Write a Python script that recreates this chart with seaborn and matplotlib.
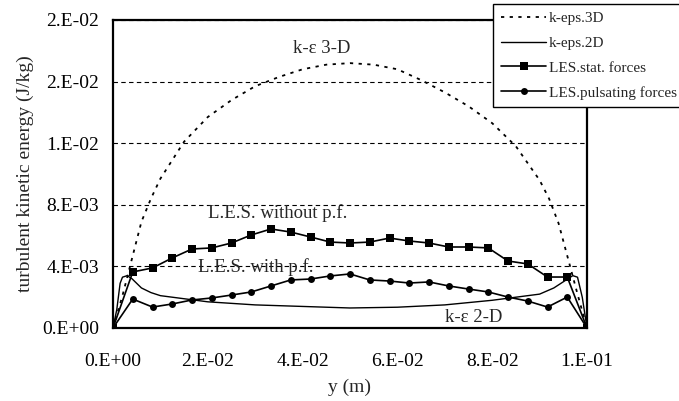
import numpy as np
import pandas as pd
import matplotlib
matplotlib.use("Agg")
import matplotlib.pyplot as plt
import seaborn as sns

# ---- data ----
x_3d = [0, 0.002, 0.004, 0.006, 0.008, 0.010, 0.015, 0.020, 0.025, 0.030, 0.035,
        0.040, 0.045, 0.050, 0.055, 0.060, 0.065, 0.070, 0.075, 0.080, 0.085,
        0.090, 0.092, 0.094, 0.096, 0.098, 0.100]
k_3d = [0, 0.0021, 0.0045, 0.0069, 0.0084, 0.0097, 0.0121, 0.0137, 0.0148, 0.0157,
        0.0163, 0.0168, 0.0171, 0.0172, 0.0171, 0.0168, 0.0161, 0.0153, 0.0144,
        0.0133, 0.0118, 0.0096, 0.0084, 0.0068, 0.0045, 0.0022, 0]

x_2d = [0, 0.0008, 0.0015, 0.002, 0.003, 0.004, 0.005, 0.006, 0.008, 0.010, 0.015,
        0.020, 0.030, 0.040, 0.050, 0.060, 0.070, 0.080, 0.085, 0.090, 0.093,
        0.095, 0.097, 0.098, 0.099, 0.0995, 0.100]
k_2d = [0, 0.0012, 0.0029, 0.0033, 0.0034, 0.0032, 0.0029, 0.0026, 0.0023, 0.0021,
        0.0019, 0.0017, 0.0015, 0.0014, 0.0013, 0.00135, 0.0015, 0.0018, 0.0020,
        0.0022, 0.0026, 0.0030, 0.0034, 0.0033, 0.0020, 0.0010, 0]

x_les = [i * 0.1 / 24 for i in range(25)]
k_les_stat = [0, 0.00364, 0.0039, 0.00455, 0.00513, 0.0052, 0.00552, 0.00604,
              0.00643, 0.00623, 0.00591, 0.00558, 0.00552, 0.00558, 0.00584,
              0.00565, 0.00552, 0.00526, 0.00526, 0.0052, 0.00435, 0.00416,
              0.00331, 0.00331, 0]
k_les_puls = [0, 0.00188, 0.00136, 0.00156, 0.00182, 0.00195, 0.00214, 0.00234,
              0.00273, 0.00312, 0.00318, 0.00338, 0.00351, 0.00312, 0.00305,
              0.00292, 0.00299, 0.00273, 0.00253, 0.00234, 0.00201, 0.00175,
              0.00136, 0.00201, 0]

y_ticks = [0, 0.004, 0.008, 0.012, 0.016, 0.020]
y_tick_labels = ["0.E+00", "4.E-03", "8.E-03", "1.E-02", "2.E-02", "2.E-02"]
x_ticks = [0, 0.02, 0.04, 0.06, 0.08, 0.10]
x_tick_labels = ["0.E+00", "2.E-02", "4.E-02", "6.E-02", "8.E-02", "1.E-01"]

labels = ["k-eps.3D", "k-eps.2D", "LES.stat. forces", "LES.pulsating forces"]

sns.set_style("white")
plt.rcParams['font.family'] = ['Liberation Serif', 'DejaVu Serif']

fig = plt.figure(figsize=(6.79, 4.01), dpi=100)
ax = fig.add_axes([113/679, 1-328/401, (587-113)/679, (328-20)/401])

df3 = pd.DataFrame({"x": x_3d, "k": k_3d})
df2 = pd.DataFrame({"x": x_2d, "k": k_2d})
dfs = pd.DataFrame({"x": x_les, "k": k_les_stat})
dfp = pd.DataFrame({"x": x_les, "k": k_les_puls})

sns.lineplot(data=df3, x="x", y="k", ax=ax, color="black", lw=1.3,
             linestyle=(0, (1.8, 3)), sort=False, label=labels[0], zorder=3)
sns.lineplot(data=df2, x="x", y="k", ax=ax, color="black", lw=1.0,
             sort=False, label=labels[1], zorder=3)
sns.lineplot(data=dfs, x="x", y="k", ax=ax, color="black", lw=1.2, marker="s",
             markersize=5.5, markeredgewidth=0, sort=False, label=labels[2], zorder=4)
sns.lineplot(data=dfp, x="x", y="k", ax=ax, color="black", lw=1.2, marker="o",
             markersize=5, markeredgewidth=0, sort=False, label=labels[3], zorder=4)

ax.set_xlim(0, 0.1)
ax.set_ylim(0, 0.02)
ax.set_xticks(x_ticks)
ax.set_xticklabels(x_tick_labels)
ax.set_yticks(y_ticks)
ax.set_yticklabels(y_tick_labels)
ax.tick_params(axis="both", direction="out", length=5, width=1, color="black",
               labelsize=14, labelcolor="black", pad=5)
ax.tick_params(axis="x", pad=13)

for yv in y_ticks[1:]:
    ax.axhline(yv, color="black", lw=0.8, linestyle=(0, (4, 3)), zorder=1)

for sp in ax.spines.values():
    sp.set_visible(True)
    sp.set_color("black")
    sp.set_linewidth(1.6)

ax.set_xlabel("y (m)", fontsize=14, labelpad=6)
ax.set_ylabel("turbulent kinetic energy (J/kg)", fontsize=14, labelpad=6)

ax.text(0.0441, 0.01812, "k-ε 3-D", ha="center", va="center", fontsize=13.5)
ax.text(0.0348, 0.00747, "L.E.S. without p.f.", ha="center", va="center", fontsize=13.5)
ax.text(0.0302, 0.00396, "L.E.S. with p.f.", ha="center", va="center", fontsize=13.5)
ax.text(0.076, 0.00065, "k-ε 2-D", ha="center", va="center", fontsize=13.5)

leg = ax.legend(loc="upper left", bbox_to_anchor=(493/679, 1-4/401),
                bbox_transform=fig.transFigure, frameon=True, fancybox=False,
                edgecolor="black", framealpha=1, fontsize=11,
                handlelength=3.0, handletextpad=0.15, borderpad=0.5,
                labelspacing=0.72, borderaxespad=0)
leg.get_frame().set_linewidth(1.0)
leg.set_zorder(10)

fig.savefig("out.png", dpi=100)
